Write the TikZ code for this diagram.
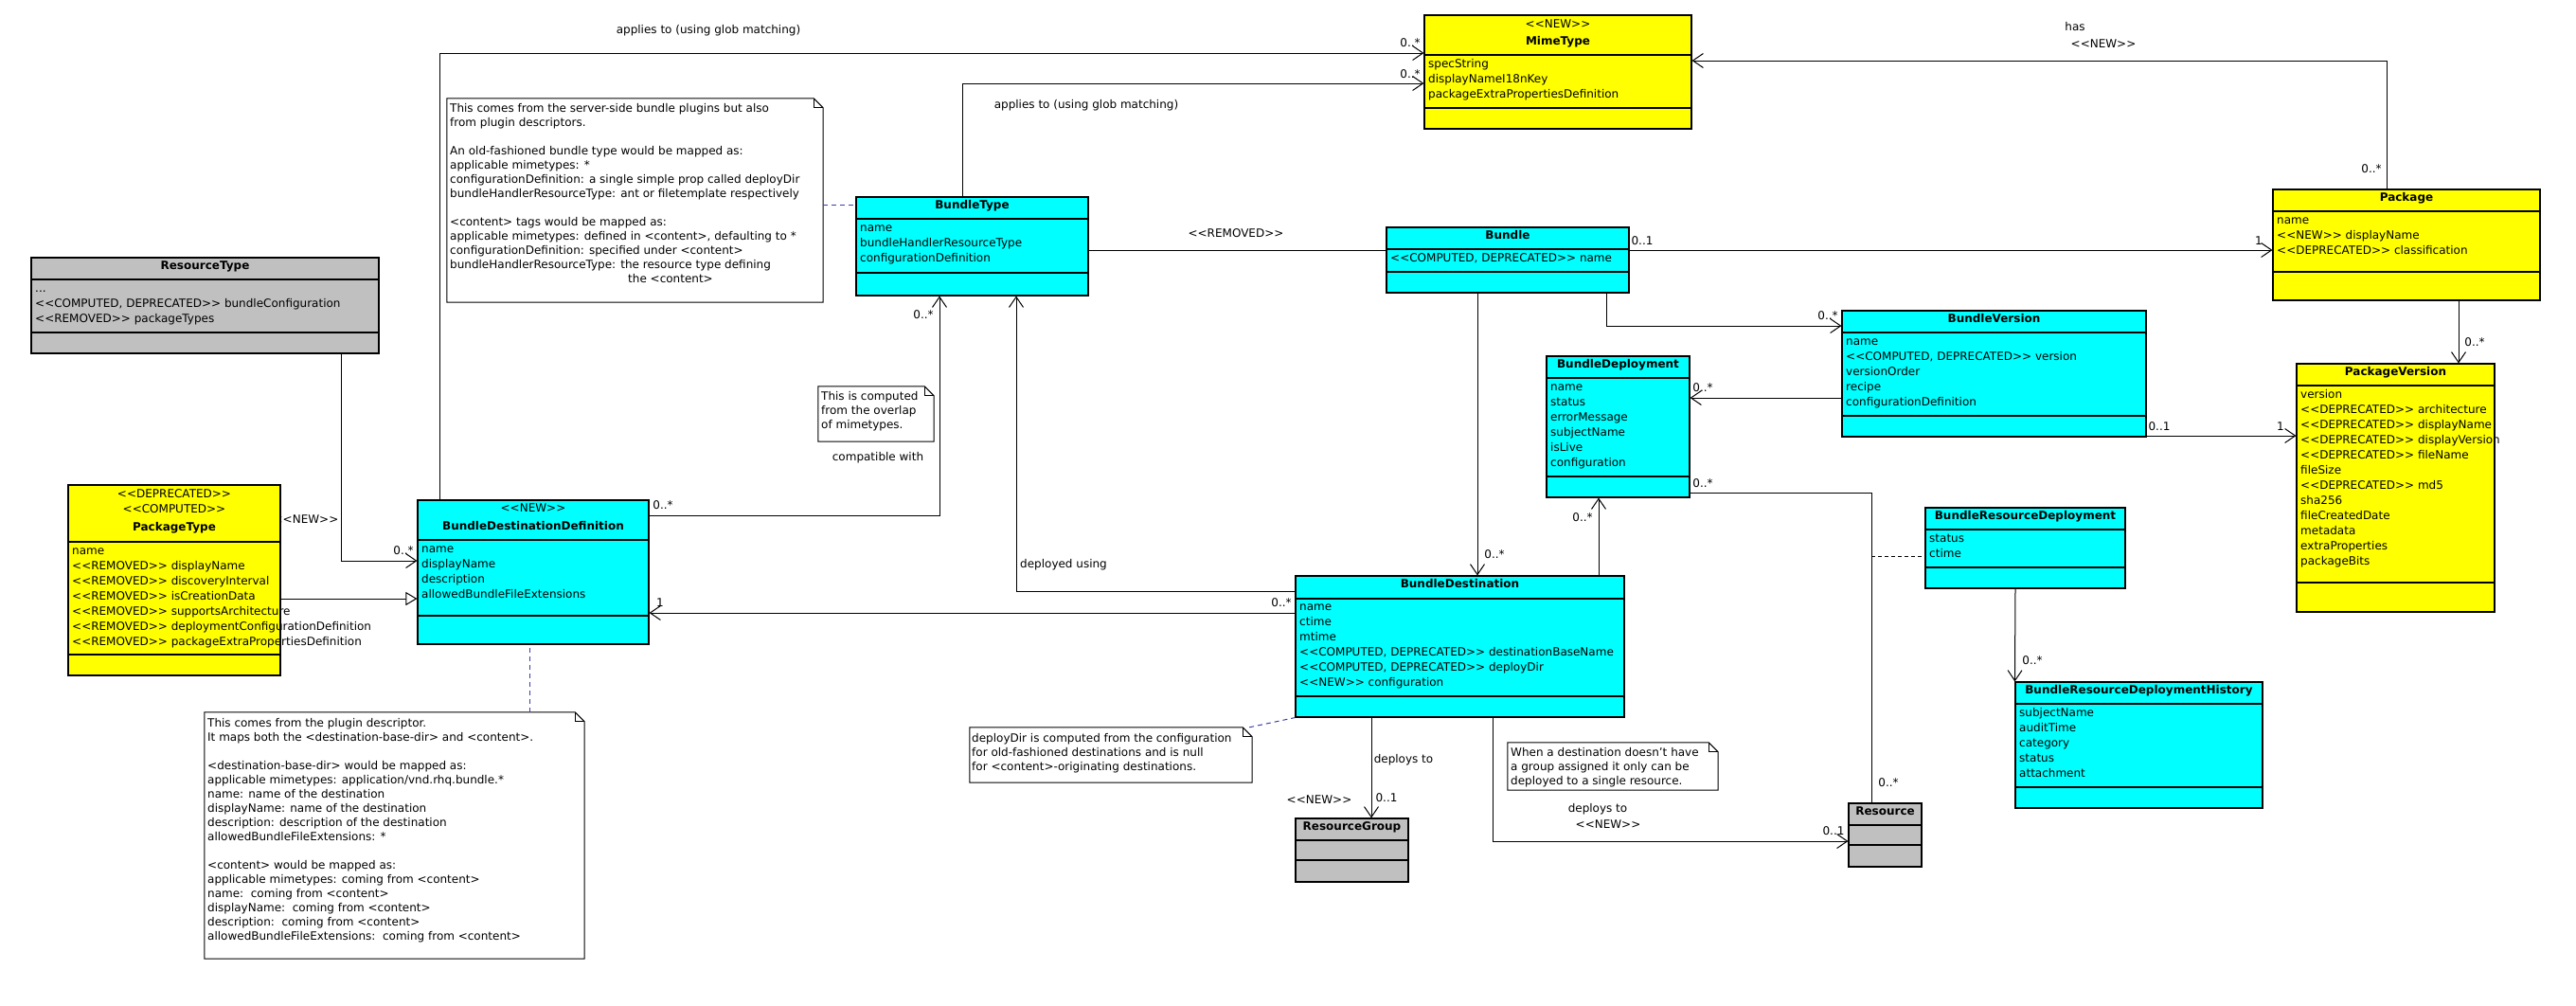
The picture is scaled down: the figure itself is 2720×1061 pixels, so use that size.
\documentclass[tikz,border=0pt]{standalone}
\usepackage{fontspec}
\setmainfont{DejaVu Sans}
\usetikzlibrary{arrows.meta,fit,calc}
\definecolor{ccyan}{RGB}{0,255,255}
\definecolor{cyel}{RGB}{255,255,0}
\definecolor{cgray}{RGB}{192,192,192}
\definecolor{nlinkc}{RGB}{60,60,170}
\newcommand\stt[1]{<{}<#1>{}>}
\newcommand\tdots{...}
\tikzset{
  every node/.style={font=\fontsize{12}{15}\selectfont},
  clsbox/.style={draw=black, line width=1.1pt, inner sep=0pt},
  txt/.style={inner sep=0pt, anchor=west, text height=9pt, text depth=3pt},
  ttl/.style={inner sep=0pt, text height=9pt, text depth=3pt, font=\fontsize{12}{15}\selectfont\bfseries},
  stl/.style={inner sep=0pt, text height=9pt, text depth=3pt},
  lbl/.style={inner sep=0pt, text height=9pt, text depth=3pt},
  notetxt/.style={inner sep=0pt, anchor=north west, align=left},
  assoc/.style={draw, line width=1pt, -{Straight Barb[length=11pt,width=15pt]}},
  plainln/.style={draw, line width=1pt},
  gen/.style={draw, line width=1pt, -{Triangle[open,length=12pt,width=14pt,fill=white]}},
  nlink/.style={draw=nlinkc, line width=1pt, dash pattern=on 5pt off 4pt},
  cdash/.style={draw=black, line width=1pt, dash pattern=on 4pt off 3pt},
}
% name, colour, x1, y1, x2, y2, header line, attribute line
\newcommand\umlbox[8]{%
  \node[clsbox, fill=#2, fit={(#3,#4) (#5,#6)}] (#1) {};
  \draw[line width=1.1pt] (#1.west |- 0,#7) -- (#1.east |- 0,#7);
  \draw[line width=1.1pt] (#1.west |- 0,#8) -- (#1.east |- 0,#8);
}
% name, x-left, first y, list
\newcommand\umlattrs[4]{%
  \foreach \t [count=\i] in {#4} {\node[txt] (#1-a\i) at (#2+4, {#3+16*(\i-1)}) {\t};}
}
% name, x1, y1, x2, y2
\newcommand\umlnote[5]{%
  \node[inner sep=0pt, fit={(#2,#3) (#4,#5)}] (#1) {};
  \draw[line width=1pt, fill=white] (#1.north west) -- ($(#1.north east)+(-10,0)$) -- ($(#1.north east)+(0,10)$) -- (#1.south east) -- (#1.south west) -- cycle;
  \draw[line width=0.8pt] ($(#1.north east)+(-10,0)$) -- ($(#1.north east)+(-10,10)$) -- ($(#1.north east)+(0,10)$);
}
\begin{document}
\begin{tikzpicture}[x=1pt, y=-1pt]
\fill[white] (0,0) rectangle (2720,1061);
\useasboundingbox (0,0) rectangle (2720,1061);

% label partly hidden by PackageType
\node[lbl] (l-rtnew) at (323,549) {\stt{NEW}};

% ---------- classes ----------
\umlbox{rt}{cgray}{33}{272}{400}{373}{295}{351}
\node[ttl] (rt-t) at (rt.north |- 0,281) {ResourceType};
\umlattrs{rt}{33}{305}{\tdots,{\stt{COMPUTED, DEPRECATED} bundleConfiguration},{\stt{REMOVED} packageTypes}}

\umlbox{pt}{cyel}{72}{512}{296}{713}{572}{691}
\node[stl] (pt-s1) at (pt.north |- 0,522) {\stt{DEPRECATED}};
\node[stl] (pt-s2) at (pt.north |- 0,538) {\stt{COMPUTED}};
\node[ttl] (pt-t) at (pt.north |- 0,557) {PackageType};
\umlattrs{pt}{72}{582}{name,{\stt{REMOVED} displayName},{\stt{REMOVED} discoveryInterval},{\stt{REMOVED} isCreationData},{\stt{REMOVED} supportsArchitecture},{\stt{REMOVED} deploymentConfigurationDefinition},{\stt{REMOVED} packageExtraPropertiesDefinition}}

\umlbox{bdd}{ccyan}{441}{528}{685}{680}{570}{650}
\node[stl] (bdd-s) at (bdd.north |- 0,537) {\stt{NEW}};
\node[ttl] (bdd-t) at (bdd.north |- 0,556) {BundleDestinationDefinition};
\umlattrs{bdd}{441}{580}{name,displayName,description,allowedBundleFileExtensions}

\umlbox{bt}{ccyan}{904}{208}{1149}{312}{231}{288}
\node[ttl] (bt-t) at (bt.north |- 0,217) {BundleType};
\umlattrs{bt}{904}{241}{name,bundleHandlerResourceType,configurationDefinition}

\umlbox{mt}{cyel}{1504}{16}{1786}{136}{58}{114}
\node[stl] (mt-s) at (mt.north |- 0,26) {\stt{NEW}};
\node[ttl] (mt-t) at (mt.north |- 0,44) {MimeType};
\umlattrs{mt}{1504}{68}{specString,displayNameI18nKey,packageExtraPropertiesDefinition}

\umlbox{bu}{ccyan}{1464}{240}{1720}{309}{263}{287}
\node[ttl] (bu-t) at (bu.north |- 0,249) {Bundle};
\umlattrs{bu}{1464}{273}{{\stt{COMPUTED, DEPRECATED} name}}

\umlbox{pk}{cyel}{2400}{200}{2682}{317}{223}{287}
\node[ttl] (pk-t) at (pk.north |- 0,209) {Package};
\umlattrs{pk}{2400}{233}{name,{\stt{NEW} displayName},{\stt{DEPRECATED} classification}}

\umlbox{bv}{ccyan}{1945}{328}{2266}{461}{351}{439}
\node[ttl] (bv-t) at (bv.north |- 0,337) {BundleVersion};
\umlattrs{bv}{1945}{361}{name,{\stt{COMPUTED, DEPRECATED} version},versionOrder,recipe,configurationDefinition}

\umlbox{bd}{ccyan}{1633}{376}{1784}{525}{399}{503}
\node[ttl] (bd-t) at (bd.north |- 0,385) {BundleDeployment};
\umlattrs{bd}{1633}{409}{name,status,errorMessage,subjectName,isLive,configuration}

\umlbox{pv}{cyel}{2425}{384}{2634}{646}{407}{615}
\node[ttl] (pv-t) at (pv.north |- 0,393) {PackageVersion};
\umlattrs{pv}{2425}{417}{version,{\stt{DEPRECATED} architecture},{\stt{DEPRECATED} displayName},{\stt{DEPRECATED} displayVersion},{\stt{DEPRECATED} fileName},fileSize,{\stt{DEPRECATED} md5},sha256,fileCreatedDate,metadata,extraProperties,packageBits}

\umlbox{bds}{ccyan}{1368}{608}{1715}{757}{632}{735}
\node[ttl] (bds-t) at (bds.north |- 0,617) {BundleDestination};
\umlattrs{bds}{1368}{641}{name,ctime,mtime,{\stt{COMPUTED, DEPRECATED} destinationBaseName},{\stt{COMPUTED, DEPRECATED} deployDir},{\stt{NEW} configuration}}

\umlbox{brd}{ccyan}{2033}{536}{2244}{621}{559}{599}
\node[ttl] (brd-t) at (brd.north |- 0,545) {BundleResourceDeployment};
\umlattrs{brd}{2033}{569}{status,ctime}

\umlbox{brdh}{ccyan}{2128}{720}{2389}{853}{743}{831}
\node[ttl] (brdh-t) at (brdh.north |- 0,729) {BundleResourceDeploymentHistory};
\umlattrs{brdh}{2128}{753}{subjectName,auditTime,category,status,attachment}

\umlbox{rg}{cgray}{1368}{864}{1487}{931}{887}{908}
\node[ttl] (rg-t) at (rg.north |- 0,873) {ResourceGroup};

\umlbox{rs}{cgray}{1952}{848}{2029}{915}{871}{892}
\node[ttl] (rs-t) at (rs.north |- 0,857) {Resource};

% ---------- notes ----------
\umlnote{n1}{472}{104}{869}{319}
\node[notetxt] (n1-t) at (475,109) {This comes from the server-side bundle plugins but also\\from plugin descriptors.\\[15pt]An old-fashioned bundle type would be mapped as:\\applicable mimetypes: *\\configurationDefinition: a single simple prop called deployDir\\bundleHandlerResourceType: ant or filetemplate respectively\\[15pt]<content> tags would be mapped as:\\applicable mimetypes: defined in <content>, defaulting to *\\configurationDefinition: specified under <content>\\bundleHandlerResourceType: the resource type defining\\\hspace*{188pt}the <content>};

\umlnote{n2}{216}{752}{617}{1012}
\node[notetxt] (n2-t) at (219,758) {This comes from the plugin descriptor.\\It maps both the <destination-base-dir> and <content>.\\[15pt]<destination-base-dir> would be mapped as:\\applicable mimetypes: application/vnd.rhq.bundle.*\\name: name of the destination\\displayName: name of the destination\\description: description of the destination\\allowedBundleFileExtensions: *\\[15pt]<content> would be mapped as:\\applicable mimetypes: coming from <content>\\name:\ \ coming from <content>\\displayName:\ \ coming from <content>\\description:\ \ coming from <content>\\allowedBundleFileExtensions:\ \ coming from <content>};

\umlnote{n3}{1024}{768}{1322}{826}
\node[notetxt] (n3-t) at (1026,774) {deployDir is computed from the configuration\\for old-fashioned destinations and is null\\for <content>-originating destinations.};

\umlnote{n4}{1592}{784}{1814}{834}
\node[notetxt] (n4-t) at (1595,789) {When a destination doesn't have\\a group assigned it only can be\\deployed to a single resource.};

\umlnote{n5}{864}{408}{986}{466}
\node[notetxt] (n5-t) at (867,413) {This is computed\\from the overlap\\of mimetypes.};

% ---------- connectors ----------
\draw[assoc] (rt.south -| 360,0) |- (bdd.west |- 0,592);
\draw[gen] (pt.east |- 0,632) -- (bdd.west |- 0,632);
\draw[assoc] (bdd.north -| 464,0) |- (mt.west |- 0,56);
\draw[assoc] (bt.north -| 1016,0) |- (mt.west |- 0,88);
\draw[nlink] (n1.east |- 0,216) -- (bt.west |- 0,216);
\draw[assoc] (bdd.east |- 0,544) -| (bt.south -| 992,0);
\draw[assoc] (bds.west |- 0,624) -| (bt.south -| 1073,0);
\draw[plainln] (bt.east |- 0,264) -- (bu.west |- 0,264);
\draw[assoc] (bu.east |- 0,264) -- (pk.west |- 0,264);
\draw[assoc] (pk.north -| 2520,0) |- (mt.east |- 0,64);
\draw[assoc] (bu.south -| 1696,0) |- (bv.west |- 0,344);
\draw[assoc] (bu.south -| 1560,0) -- (bds.north -| 1560,0);
\draw[assoc] (bv.west |- 0,420) -- (bd.east |- 0,420);
\draw[assoc] (bv.east |- 0,460) -- (pv.west |- 0,460);
\draw[assoc] (pk.south -| 2596,0) -- (pv.north -| 2596,0);
\draw[assoc] (bds.north -| 1688,0) -- (bd.south -| 1688,0);
\draw[plainln] (bd.east |- 0,520) -| (rs.north -| 1976,0);
\coordinate (acl) at (1976,587);
\draw[cdash] (acl) -- (brd.west |- 0,587);
\draw[assoc] (brd.south -| 2128,0) -- (brdh.north west);
\draw[assoc] (bds.south -| 1448,0) -- (rg.north -| 1448,0);
\draw[assoc] (bds.south -| 1576,0) |- (rs.west |- 0,888);
\draw[assoc] (bds.west |- 0,647) -- (bdd.east |- 0,647);
\draw[nlink] (n2.north -| 559,0) -- (bdd.south -| 559,0);
\draw[nlink] ($(n3.north east)+(-3,0)$) -- (bds.south west);

% ---------- connector labels ----------
\node[lbl] (l1) at (748,32) {applies to (using glob matching)};
\node[lbl] (l2) at (1147,111) {applies to (using glob matching)};
\node[lbl] (l3) at (1489,46) {0..*};
\node[lbl] (l4) at (1489,79) {0..*};
\node[lbl] (l5) at (2191,29) {has};
\node[lbl] (l6) at (2221,47) {\stt{NEW}};
\node[lbl] (l7) at (2504,179) {0..*};
\node[lbl] (l8) at (1305,247) {\stt{REMOVED}};
\node[lbl] (l9) at (1734,255) {0..1};
\node[lbl] (l10) at (2385,255) {1};
\node[lbl] (l11) at (1930,334) {0..*};
\node[lbl] (l12) at (1798,410) {0..*};
\node[lbl] (l13) at (2280,451) {0..1};
\node[lbl] (l14) at (2408,451) {1};
\node[lbl] (l15) at (2613,362) {0..*};
\node[lbl] (l16) at (1798,511) {0..*};
\node[lbl] (l17) at (1671,547) {0..*};
\node[lbl] (l18) at (1578,586) {0..*};
\node[lbl] (l19) at (1123,596) {deployed using};
\node[lbl] (l20) at (1353,637) {0..*};
\node[lbl] (l21) at (697,637) {1};
\node[lbl] (l22) at (700,534) {0..*};
\node[lbl] (l23) at (975,333) {0..*};
\node[lbl] (l24) at (927,483) {compatible with};
\node[lbl] (l25) at (426,582) {0..*};
\node[lbl] (l26) at (1482,802) {deploys to};
\node[lbl] (l27) at (1464,843) {0..1};
\node[lbl] (l28) at (1393,845) {\stt{NEW}};
\node[lbl] (l29) at (1687,854) {deploys to};
\node[lbl] (l30) at (1698,871) {\stt{NEW}};
\node[lbl] (l31) at (1936,878) {0..1};
\node[lbl] (l32) at (1994,827) {0..*};
\node[lbl] (l33) at (2146,698) {0..*};
\end{tikzpicture}
\end{document}
